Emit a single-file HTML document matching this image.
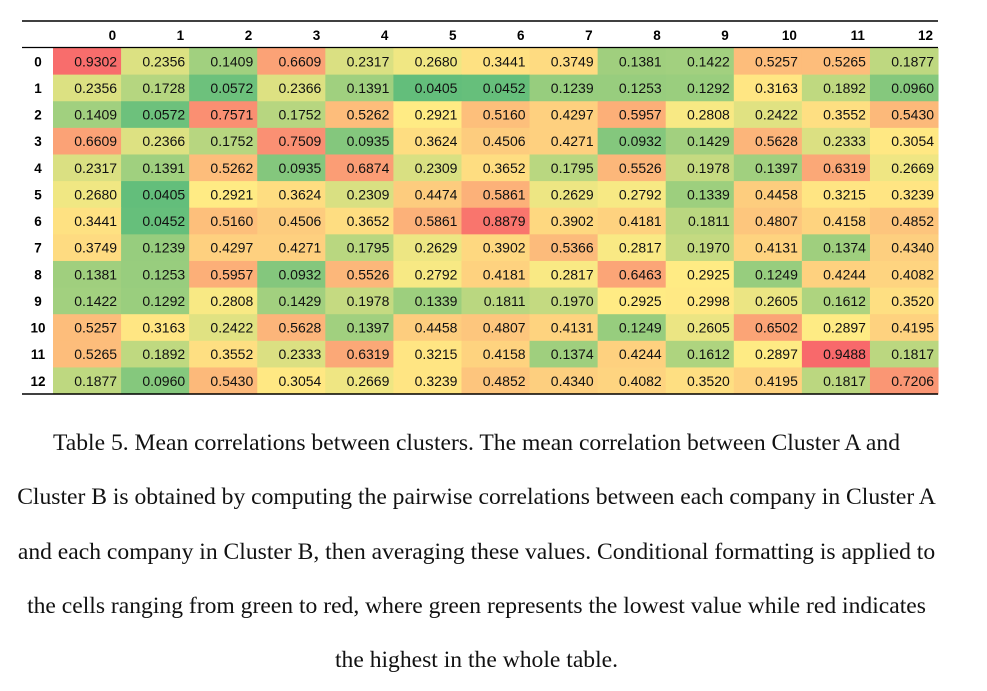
<!DOCTYPE html>
<html><head><meta charset="utf-8"><style>
body{margin:0;background:#fff;width:987px;height:691px;overflow:hidden;position:relative}
svg{position:absolute;left:0;top:0}
.cap{position:absolute;left:-37px;top:416px;width:1027px;text-align:center;font-family:"Liberation Serif",serif;font-size:23.6px;line-height:54.3px;color:#111;white-space:nowrap}
</style></head><body>
<svg id="tbl" width="987" height="410"></svg>
<div class="cap">Table 5. Mean correlations between clusters. The mean correlation between Cluster A and<br>Cluster B is obtained by computing the pairwise correlations between each company in Cluster A<br>and each company in Cluster B, then averaging these values. Conditional formatting is applied to<br>the cells ranging from green to red, where green represents the lowest value while red indicates<br>the highest in the whole table.</div>
<script>
const labels=["0","1","2","3","4","5","6","7","8","9","10","11","12"];
const row0=[0.9302,0.2356,0.1409,0.6609,0.2317,0.2680,0.3441,0.3749,0.1381,0.1422,0.5257,0.5265,0.1877];
const row1=[0.2356,0.1728,0.0572,0.2366,0.1391,0.0405,0.0452,0.1239,0.1253,0.1292,0.3163,0.1892,0.0960];
const row2=[0.1409,0.0572,0.7571,0.1752,0.5262,0.2921,0.5160,0.4297,0.5957,0.2808,0.2422,0.3552,0.5430];
const row3=[0.6609,0.2366,0.1752,0.7509,0.0935,0.3624,0.4506,0.4271,0.0932,0.1429,0.5628,0.2333,0.3054];
const row4=[0.2317,0.1391,0.5262,0.0935,0.6874,0.2309,0.3652,0.1795,0.5526,0.1978,0.1397,0.6319,0.2669];
const row5=[0.2680,0.0405,0.2921,0.3624,0.2309,0.4474,0.5861,0.2629,0.2792,0.1339,0.4458,0.3215,0.3239];
const row6=[0.3441,0.0452,0.5160,0.4506,0.3652,0.5861,0.8879,0.3902,0.4181,0.1811,0.4807,0.4158,0.4852];
const row7=[0.3749,0.1239,0.4297,0.4271,0.1795,0.2629,0.3902,0.5366,0.2817,0.1970,0.4131,0.1374,0.4340];
const row8=[0.1381,0.1253,0.5957,0.0932,0.5526,0.2792,0.4181,0.2817,0.6463,0.2925,0.1249,0.4244,0.4082];
const row9=[0.1422,0.1292,0.2808,0.1429,0.1978,0.1339,0.1811,0.1970,0.2925,0.2998,0.2605,0.1612,0.3520];
const row10=[0.5257,0.3163,0.2422,0.5628,0.1397,0.4458,0.4807,0.4131,0.1249,0.2605,0.6502,0.2897,0.4195];
const row11=[0.5265,0.1892,0.3552,0.2333,0.6319,0.3215,0.4158,0.1374,0.4244,0.1612,0.2897,0.9488,0.1817];
const row12=[0.1877,0.0960,0.5430,0.3054,0.2669,0.3239,0.4852,0.4340,0.4082,0.3520,0.4195,0.1817,0.7206];
const rows=[row0,row1,row2,row3,row4,row5,row6,row7,row8,row9,row10,row11,row12];

const NS="http://www.w3.org/2000/svg";
const svg=document.getElementById('tbl');
const x0=53,cw=68.08,y0=48,rh=26.62,left=22,right=938;
const all=rows.flat().slice().sort((a,b)=>a-b);
const mn=all[0],mx=all[all.length-1],md=all[Math.floor(all.length/2)];
const G=[99,190,123],Y=[255,235,132],R=[248,105,107];
function mix(a,b,t){return 'rgb('+a.map((v,i)=>Math.round(v+(b[i]-v)*t)).join(',')+')';}
function color(v){return v<=md?mix(G,Y,(v-mn)/(md-mn)):mix(Y,R,(v-md)/(mx-md));}
function xs(c){return x0+c*cw;}
function ys(r){return y0+r*rh;}
function mk(tag,attrs){const e=document.createElementNS(NS,tag);for(const k in attrs)e.setAttribute(k,attrs[k]);svg.appendChild(e);return e;}
const F='"Liberation Sans",Arial,sans-serif';
labels.forEach((l,c)=>{
  const t=mk('text',{x:xs(c+1)-5,y:40,'text-anchor':'end','font-family':F,'font-size':13.5,'font-weight':'bold',fill:'#000'});
  t.textContent=l;
  
  
});
rows.forEach((row,r)=>{
  const t=mk('text',{x:38,y:ys(r)+rh/2+5,'text-anchor':'middle','font-family':F,'font-size':13.5,'font-weight':'bold',fill:'#000'});
  t.textContent=labels[r];
  
  
  row.forEach((v,c)=>{
    const rc=mk('rect',{x:xs(c),y:ys(r),width:cw+0.5,height:rh+0.5,fill:color(v)});
    
    
    const tx=mk('text',{x:xs(c+1)-4,y:ys(r)+rh/2+5,'text-anchor':'end','font-family':F,'font-size':14,fill:'#111'});
    tx.textContent=v.toFixed(4);
    
    
  });
});
const l1=mk('line',{x1:left,x2:right,y1:21,y2:21,stroke:'#000','stroke-width':1.5});


const l2=mk('line',{x1:left,x2:right,y1:47.5,y2:47.5,stroke:'#000','stroke-width':1.2});


const l3=mk('line',{x1:left,x2:right,y1:394,y2:394,stroke:'#000','stroke-width':1.5});


</script>
</body></html>
